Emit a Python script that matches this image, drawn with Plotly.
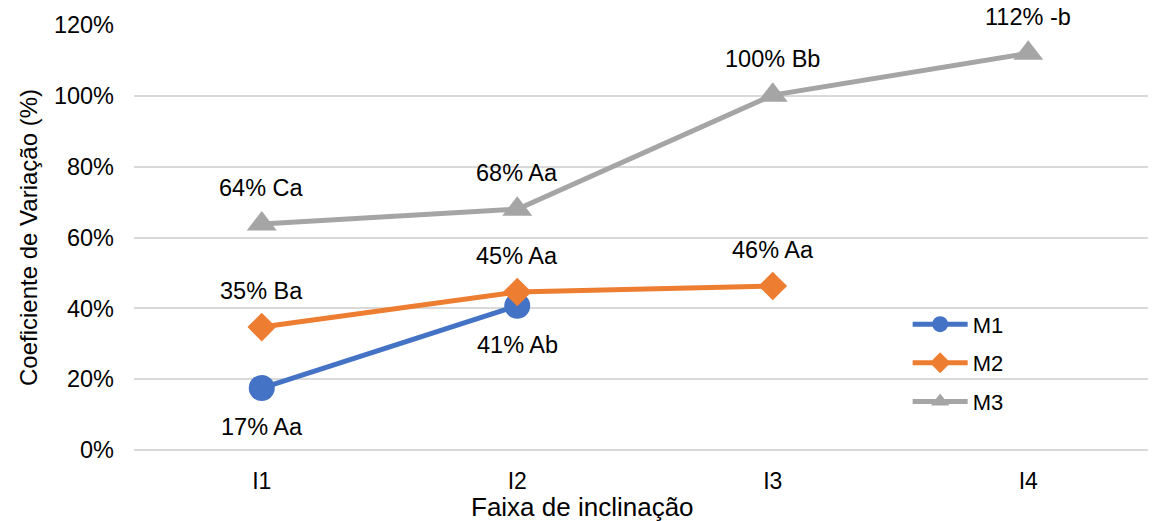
import plotly.graph_objects as go

categories = ["I1", "I2", "I3", "I4"]
m1 = [17.5, 40.7, None, None]
m2 = [34.7, 44.6, 46.3, None]
m3 = [63.8, 68.0, 100.2, 112.0]
m1_labels = ["17% Aa", "41% Ab", None, None]
m2_labels = ["35% Ba", "45% Aa", "46% Aa", None]
m3_labels = ["64% Ca", "68% Aa", "100% Bb", "112% -b"]
y_ticks = [0, 20, 40, 60, 80, 100, 120]

FONT = "Liberation Sans, Arial, sans-serif"

fig = go.Figure()
series = [
    ("M1", m1, m1_labels, "#4472C4", "circle", 26, -39),
    ("M2", m2, m2_labels, "#ED7D31", "diamond", 22, 36),
    ("M3", m3, m3_labels, "#A5A5A5", "triangle-up", 26, 36),
]
annotations = []
for name, vals, labels, color, sym, size, shift in series:
    fig.add_trace(go.Scatter(
        x=categories, y=vals, name=name, mode="lines+markers",
        legendgroup=name,
        line=dict(color=color, width=5),
        marker=dict(symbol=sym, size=size, color=color),
        connectgaps=False,
    ))
    for c, v, t in zip(categories, vals, labels):
        if v is None or t is None:
            continue
        annotations.append(dict(x=c, y=v, text=t, showarrow=False,
                                yshift=shift, font=dict(size=23.5, color="#000", family=FONT)))

annotations.append(dict(text="Faixa de inclinação", xref="paper", yref="paper",
                        x=0.439, y=-0.133, xanchor="center", yanchor="middle",
                        showarrow=False, font=dict(size=26, color="#000", family=FONT)))

fig.update_layout(
    width=1148, height=513,
    margin=dict(l=126, r=0, t=17, b=71),
    plot_bgcolor="white", paper_bgcolor="white",
    font=dict(family=FONT, size=22, color="#000"),
    annotations=annotations,
    showlegend=True,
    legend=dict(x=0.757, y=0.345, xanchor="left", yanchor="top",
                font=dict(size=22, family=FONT), tracegroupgap=7,
                itemwidth=55, bgcolor="rgba(0,0,0,0)"),
    xaxis=dict(
        type="category", range=[-0.5, 3.5], automargin=False,
        showgrid=False, ticks="", showline=False,
        tickfont=dict(size=23), ticklabelstandoff=15,
    ),
    yaxis=dict(
        range=[0, 120], tickvals=y_ticks, ticktext=[f"{v}%" for v in y_ticks],
        automargin=False,
        gridcolor="#D9D9D9", gridwidth=1.5, zeroline=True, zerolinecolor="#D9D9D9",
        zerolinewidth=1.5, showline=False, ticks="",
        title=dict(text="Coeficiente de Variação (%)", font=dict(size=24), standoff=9),
        tickfont=dict(size=23.5), ticklabelstandoff=19,
    ),
)

fig.write_html("out.html")
